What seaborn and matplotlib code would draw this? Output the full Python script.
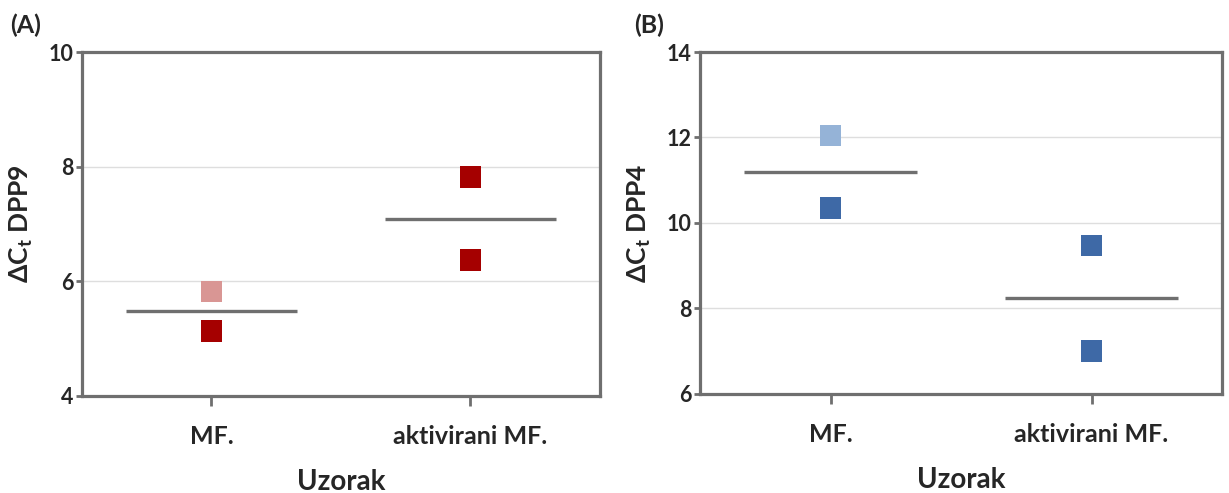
import pandas as pd
import seaborn as sns
import matplotlib
import matplotlib.pyplot as plt

matplotlib.use('Agg')

categories = ['MF.', 'aktivirani MF.']

# panel A - DPP9
dpp9_group = ['MF.', 'MF.', 'aktivirani MF.', 'aktivirani MF.']
dpp9_values = [5.82, 5.13, 7.82, 6.37]
dpp9_shade = ['light', 'dark', 'dark', 'dark']

# panel B - DPP4
dpp4_group = ['MF.', 'MF.', 'aktivirani MF.', 'aktivirani MF.']
dpp4_values = [12.05, 10.35, 9.47, 7.0]
dpp4_shade = ['light', 'dark', 'dark', 'dark']

sns.set_theme(style='white')
plt.rcParams['font.family'] = ['Lato', 'DejaVu Sans']
plt.rcParams['font.weight'] = 'bold'
plt.rcParams['mathtext.fontset'] = 'custom'
plt.rcParams['mathtext.rm'] = 'Lato:bold'
plt.rcParams['mathtext.it'] = 'Lato:bold'

spine_col = '#6f6f6f'

fig = plt.figure(figsize=(12.29, 4.93), dpi=100)
ax_a = fig.add_axes([0.0667, 0.197, 0.4213, 0.6975])
ax_b = fig.add_axes([0.5696, 0.201, 0.4247, 0.6935])


def draw_panel(ax, group, values, shade, palette, ylim, yticks, ylabel):
    df = pd.DataFrame({'group': group, 'value': values, 'shade': shade})
    sns.stripplot(data=df, x='group', y='value', hue='shade', palette=palette,
                  order=categories, jitter=False, dodge=False, marker='s', size=15.5,
                  linewidth=0, legend=False, ax=ax, zorder=3)
    # mean line per group
    means = df.groupby('group')['value'].mean().reindex(categories)
    for i, m in enumerate(means):
        ax.hlines(m, i - 0.33, i + 0.33, color=spine_col, lw=2.4, zorder=2)

    ax.set_xlim(-0.5, 1.5)
    ax.set_ylim(*ylim)
    ax.set_yticks(yticks)
    ax.yaxis.grid(True, color='#dedede', lw=1)
    ax.set_axisbelow(True)
    for s in ax.spines.values():
        s.set_visible(True)
        s.set_color(spine_col)
        s.set_linewidth(2.3)
    ax.tick_params(axis='x', direction='out', length=7, width=2, color=spine_col,
                   bottom=True, labelsize=18, pad=14)
    ax.tick_params(axis='y', direction='out', length=4, width=2, color=spine_col,
                   left=True, labelsize=15.5, pad=2)
    for lab in ax.get_xticklabels() + ax.get_yticklabels():
        lab.set_fontweight('bold')
    ax.set_xlabel('Uzorak', fontsize=20, fontweight='bold', labelpad=15)
    ax.set_ylabel(ylabel, fontsize=19, fontweight='bold', labelpad=10)


draw_panel(ax_a, dpp9_group, dpp9_values, dpp9_shade,
           {'light': '#d99694', 'dark': '#a50000'},
           (4, 10), [4, 6, 8, 10], 'ΔC$_{t}$ DPP9')
draw_panel(ax_b, dpp4_group, dpp4_values, dpp4_shade,
           {'light': '#95b3d7', 'dark': '#3e69a6'},
           (6, 14), [6, 8, 10, 12, 14], 'ΔC$_{t}$ DPP4')

fig.text(0.008, 0.948, '(A)', fontsize=18, fontweight='bold', va='center', ha='left')
fig.text(0.516, 0.948, '(B)', fontsize=18, fontweight='bold', va='center', ha='left')

fig.savefig('out.png', dpi=100)
